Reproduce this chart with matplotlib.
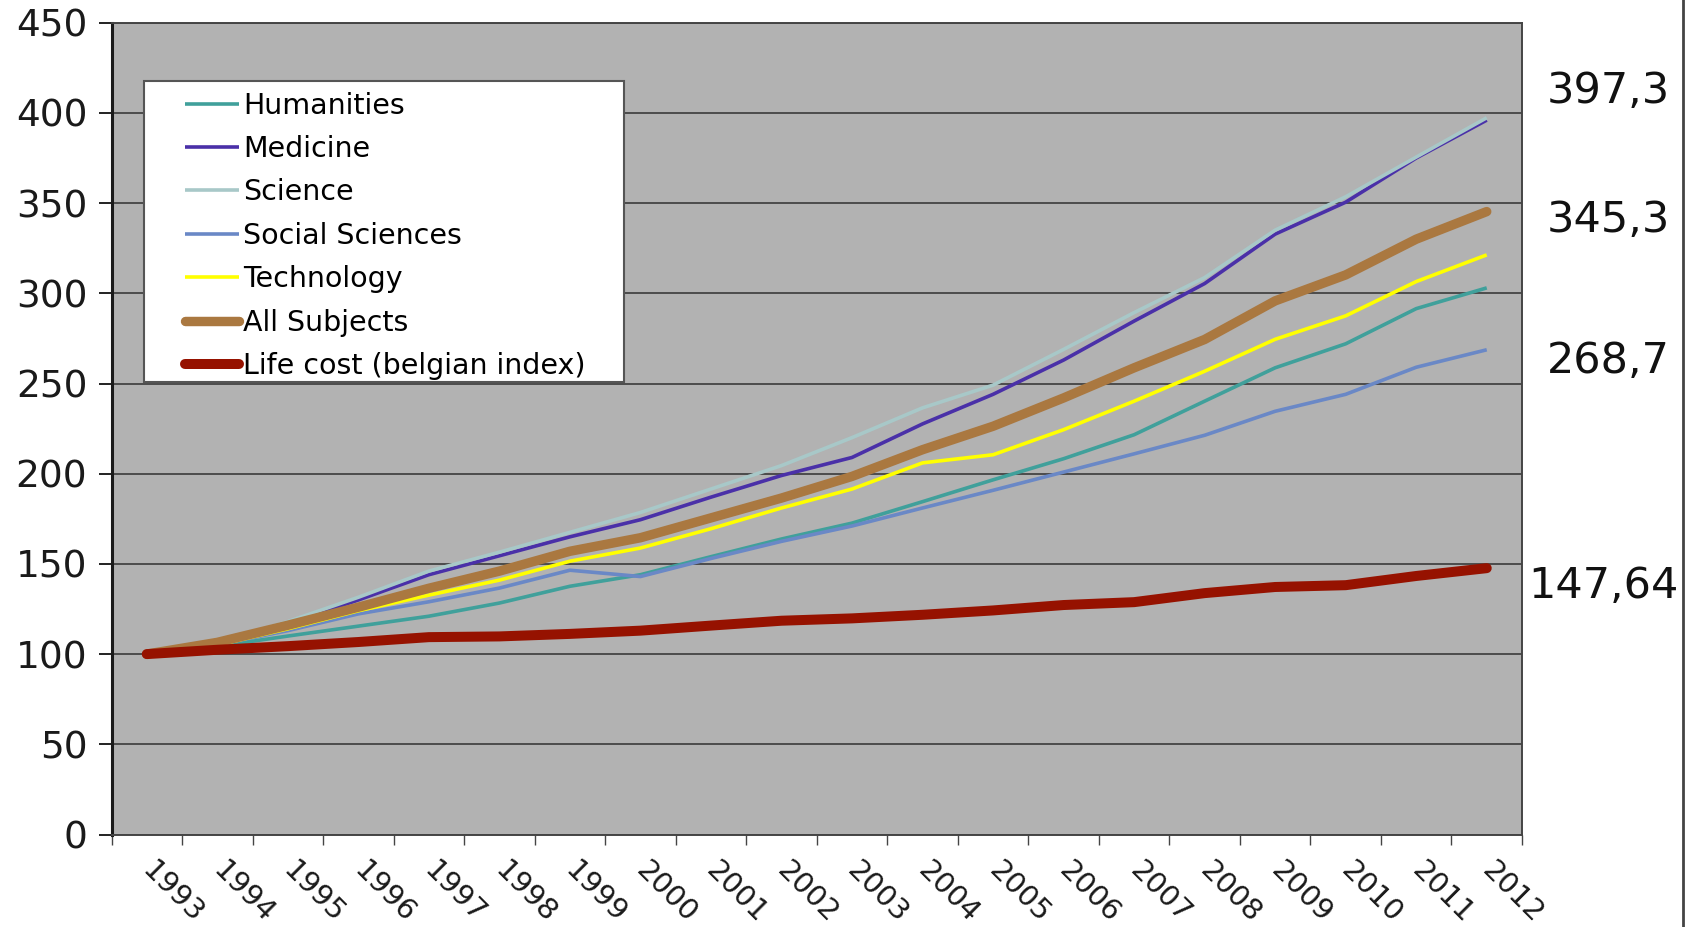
import matplotlib
matplotlib.use("Agg")
import matplotlib.pyplot as plt
import numpy as np
from matplotlib.lines import Line2D
from matplotlib.patches import Rectangle

# values (index, 1993 = 100)
years = [str(y) for y in range(1993, 2013)]
humanities = [100, 104.3, 110, 115.5, 121, 128.3, 137.6, 144, 154, 163.8,
              172.6, 184.5, 196.6, 208.3, 221.6, 240.2, 258.7, 272, 291.5, 303]
medicine = [100, 105.8, 117, 130, 144, 154.5, 165, 174.5, 187, 199,
            209, 227.6, 244, 263, 284.6, 305.4, 332.8, 350.5, 375, 396]
science = [100, 106.3, 118, 131.5, 146, 156.5, 167.5, 178.5, 191.5, 204.5,
           220, 236.5, 249.1, 268.9, 289.3, 308.7, 335, 353.5, 375.5, 397.3]
social = [100, 105.2, 113, 122.3, 129, 136.6, 146.5, 143, 153, 162.5,
          171, 181, 190.8, 200.9, 211, 221.3, 234.6, 244, 259, 268.7]
technology = [100, 105, 114, 124, 132.7, 141, 151.5, 158.8, 169.5, 181,
              191.5, 206, 210.5, 224.4, 240.2, 256.8, 274.5, 287.5, 306.5, 321.3]
all_subjects = [100, 106.5, 116, 126, 136.5, 146, 157, 164.5, 175.5, 186.5,
                198.5, 213.3, 226.3, 242, 258.7, 274.4, 295.8, 310.2, 330, 345.3]
life_cost = [100, 102.4, 104.4, 106.7, 109.4, 109.8, 111.2, 113, 115.8, 118.5,
             119.8, 121.8, 124.2, 127.2, 128.8, 133.8, 137.2, 138.2, 143.3, 147.64]

series_names = ["Humanities", "Medicine", "Science", "Social Sciences",
                "Technology", "All Subjects", "Life cost (belgian index)"]
series_vals = [humanities, medicine, science, social, technology, all_subjects, life_cost]
colors = ["#40a09b", "#4a30a8", "#a8c8c8", "#6a88c6", "#ffff00", "#aa7840", "#961200"]
widths = [2.6, 2.6, 2.6, 2.6, 2.6, 6.8, 7.2]

end_labels = ["397,3", "345,3", "268,7", "147,64"]
end_label_y = [405.5, 334, 255.8, 131.2]   # baseline positions
end_label_x = [1.0177, 1.0177, 1.0177, 1.0045]

plt.rcParams['font.family'] = ['DejaVu Sans']

fig = plt.figure(figsize=(16.85, 9.27), dpi=100)
ax = fig.add_axes([111.5 / 1685, 1 - 834.5 / 927, 1410.5 / 1685, 811.8 / 927])
ax.set_facecolor("#b2b2b2")

x = np.arange(len(years))
for name, vals, c, lw in zip(series_names, series_vals, colors, widths):
    cap = "round" if lw > 4 else "butt"
    ax.plot(x, vals, color=c, lw=lw, label=name, solid_capstyle=cap,
            solid_joinstyle="round", zorder=3)

ax.set_xlim(-0.5, len(years) - 0.5)
ax.set_ylim(0, 450)
ax.set_yticks(np.arange(0, 451, 50))
ax.yaxis.grid(True, color="#444444", lw=1.3)
ax.set_axisbelow(True)

ax.set_xticks(x)
ax.set_xticklabels(years)
ax.set_xticks(np.arange(-0.5, len(years)), minor=True)
ax.tick_params(axis="x", which="major", length=0, pad=23, labelsize=21,
               labelcolor="#1a1a1a")
ax.tick_params(axis="x", which="minor", length=7.2, width=1.0, color="#444444")
ax.tick_params(axis="y", length=9.4, width=1.4, color="#222222", pad=8,
               labelsize=27, labelcolor="#1a1a1a")
for lab in ax.get_xticklabels():
    lab.set_rotation(-45)
    lab.set_ha("left")
    lab.set_va("center")
    lab.set_rotation_mode("anchor")

for side in ["top", "right", "bottom"]:
    ax.spines[side].set_color("#444444")
    ax.spines[side].set_linewidth(1.4)
ax.spines["left"].set_color("#1a1a1a")
ax.spines["left"].set_linewidth(2.2)

# legend box (white panel) and entries
box = Rectangle((0.023, 0.558), 0.3404, 0.370, transform=ax.transAxes,
                facecolor="white", edgecolor="#555555", lw=1.5, zorder=4)
ax.add_patch(box)
leg = ax.legend(loc="upper left", bbox_to_anchor=(0.0521, 0.915), frameon=False,
                fontsize=20.5, handlelength=1.9, handletextpad=0.14,
                labelspacing=0.54, borderpad=0, borderaxespad=0)
leg.set_zorder(5)

for txt, yv, xv in zip(end_labels, end_label_y, end_label_x):
    ax.text(xv, yv, txt, transform=ax.get_yaxis_transform(), fontsize=31,
            va="baseline", ha="left", color="#111111", clip_on=False)

fig.add_artist(Line2D([0.9988, 0.9988], [0, 1], transform=fig.transFigure,
                      color="#444444", lw=2))

fig.savefig("out.png", dpi=100)
